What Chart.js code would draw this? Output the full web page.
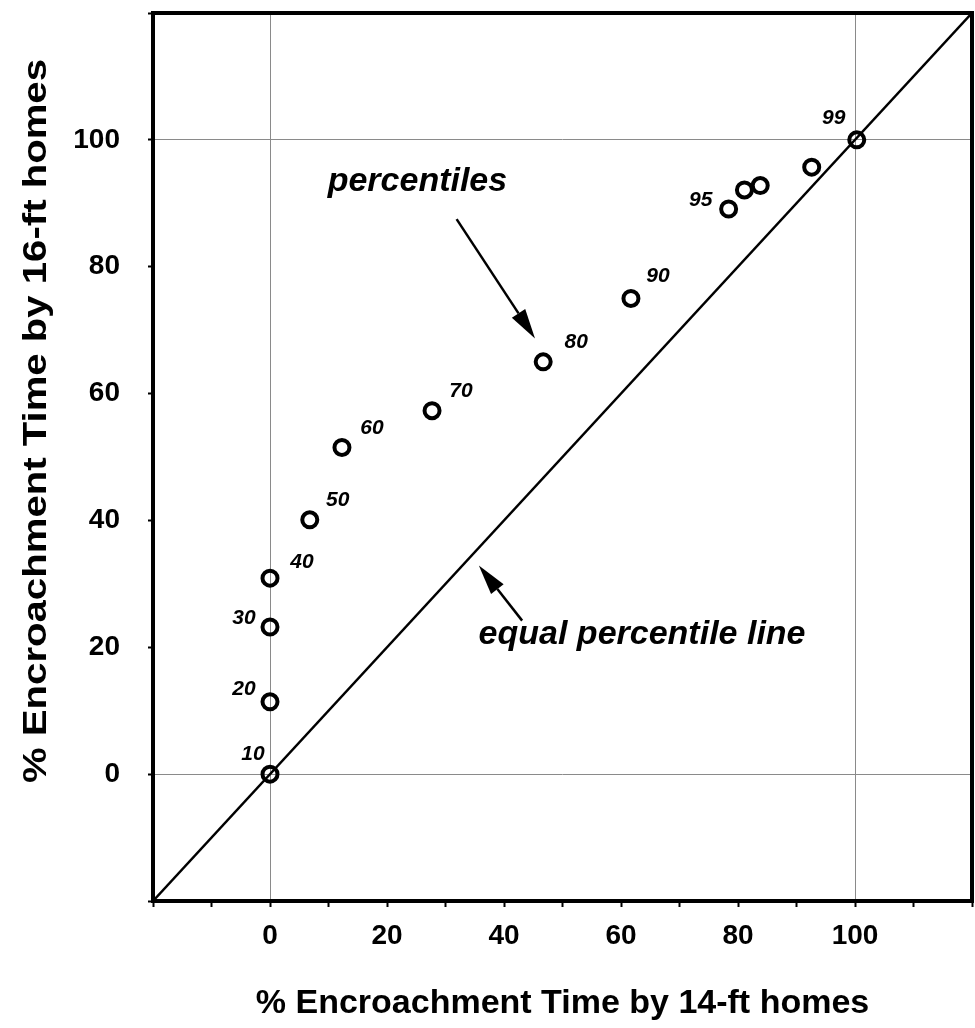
<!DOCTYPE html>
<html>
<head>
<meta charset="utf-8">
<script src="https://cdn.jsdelivr.net/npm/chart.js@4/dist/chart.umd.min.js"></script>
<style>
  body { margin: 0; background: #fff; }
  canvas { display: block; }
</style>
</head>
<body>
<canvas id="chart" width="975" height="1028"></canvas>
<script>
// percentile values
const percentiles = ['10', '20', '30', '40', '50', '60', '70', '80', '90', '95', '', '', '', '99'];
const pct14ft = [0, 0, 0, 0, 6.8, 12.3, 27.7, 46.7, 61.7, 78.4, 81.1, 83.8, 92.6, 100.3];
const pct16ft = [0, 11.4, 23.2, 30.9, 40.1, 51.5, 57.3, 65.0, 75.0, 89.1, 92.1, 92.8, 95.7, 100];
const equalLine = [-20, 120];
const tickLabels = [0, 20, 40, 60, 80, 100];

// where each percentile label sits relative to its circle (px)
const labelOffsets = [[-17, -20], [-26, -13], [-26, -9], [32, -16], [28, -20], [30, -19], [29, -19],
  [33, -20], [27, -22], [-28, -9], [0, 0], [0, 0], [0, 0], [-23, -22]];

const FONT = '"Liberation Sans", Arial, Helvetica, sans-serif';

const points = pct14ft.map((x, i) => ({ x: x, y: pct16ft[i] }));
const diag = equalLine.map(v => ({ x: v, y: v }));

function arrow(ctx, x1, y1, x2, y2) {
  const ang = Math.atan2(y2 - y1, x2 - x1);
  const len = 30, half = 8;
  const bx = x2 - len * Math.cos(ang), by = y2 - len * Math.sin(ang);
  ctx.beginPath();
  ctx.moveTo(x1, y1);
  ctx.lineTo(bx, by);
  ctx.lineWidth = 2.5;
  ctx.stroke();
  ctx.beginPath();
  ctx.moveTo(x2, y2);
  ctx.lineTo(bx + half * Math.sin(ang), by - half * Math.cos(ang));
  ctx.lineTo(bx - half * Math.sin(ang), by + half * Math.cos(ang));
  ctx.closePath();
  ctx.fill();
}

const decorations = {
  id: 'decorations',
  afterDatasetsDraw(chart) {
    const { ctx, chartArea: a, scales: { x, y } } = chart;
    ctx.save();
    ctx.strokeStyle = '#000';
    ctx.fillStyle = '#000';

    // frame
    ctx.lineWidth = 4;
    ctx.strokeRect(a.left, a.top, a.right - a.left, a.bottom - a.top);

    // percentile labels
    ctx.font = 'italic bold 21px ' + FONT;
    ctx.textAlign = 'center';
    ctx.textBaseline = 'middle';
    percentiles.forEach((p, i) => {
      if (!p) return;
      const px = x.getPixelForValue(pct14ft[i]) + labelOffsets[i][0];
      const py = y.getPixelForValue(pct16ft[i]) + labelOffsets[i][1];
      ctx.fillText(p, px, py);
    });

    // annotations
    ctx.font = 'italic bold 34px ' + FONT;
    ctx.textBaseline = 'alphabetic';
    ctx.fillText('percentiles', x.getPixelForValue(25.2), y.getPixelForValue(91.9));
    arrow(ctx, x.getPixelForValue(31.9), y.getPixelForValue(87.5), x.getPixelForValue(45.3), y.getPixelForValue(68.7));
    ctx.fillText('equal percentile line', x.getPixelForValue(63.6), y.getPixelForValue(20.5));
    arrow(ctx, x.getPixelForValue(43.1), y.getPixelForValue(24.2), x.getPixelForValue(35.7), y.getPixelForValue(32.9));

    // axis titles
    ctx.textBaseline = 'middle';
    ctx.font = 'bold 34px ' + FONT;
    ctx.fillText('% Encroachment Time by 14-ft homes', (a.left + a.right) / 2, 1004);

    const yTitle = '% Encroachment Time by 16-ft homes';
    ctx.font = 'bold 33px ' + FONT;
    const w = ctx.measureText(yTitle).width;
    ctx.translate(37, 421);
    ctx.rotate(-Math.PI / 2);
    ctx.scale(724 / w, 1);
    ctx.fillText(yTitle, 0, 0);
    ctx.restore();
  }
};

function gridColor(c) {
  return c.tick && (c.tick.value === 0 || c.tick.value === 100) ? '#8a8a8a' : 'rgba(0,0,0,0)';
}

new Chart(document.getElementById('chart'), {
  type: 'scatter',
  data: {
    datasets: [
      {
        data: points,
        showLine: false,
        pointRadius: 7.5,
        pointHoverRadius: 7.5,
        pointBorderWidth: 4,
        pointBorderColor: '#000',
        pointBackgroundColor: 'rgba(0,0,0,0)'
      },
      {
        data: diag,
        showLine: true,
        borderColor: '#000',
        borderWidth: 2.5,
        pointRadius: 0
      }
    ]
  },
  options: {
    responsive: false,
    animation: false,
    layout: { autoPadding: false, padding: { top: 13, right: 3, left: 0, bottom: 0 } },
    plugins: { legend: { display: false }, tooltip: { enabled: false } },
    scales: {
      x: {
        type: 'linear',
        min: -20,
        max: 120,
        afterFit: s => { s.height = 127; s.paddingLeft = 0; s.paddingRight = 0; },
        border: { display: false },
        grid: { color: gridColor, lineWidth: 1, borderDash: [1, 2], tickColor: '#000', tickLength: 6, tickWidth: 2 },
        ticks: {
          stepSize: 10,
          autoSkip: false,
          maxRotation: 0,
          padding: 12,
          color: '#000',
          font: { family: FONT, size: 28, weight: 'bold' },
          callback: v => tickLabels.includes(v) ? String(v) : ''
        }
      },
      y: {
        type: 'linear',
        min: -20,
        max: 120,
        afterFit: s => { s.width = 153; s.paddingTop = 0; s.paddingBottom = 0; },
        border: { display: false },
        grid: { color: gridColor, lineWidth: 1, borderDash: [1, 2], tickColor: '#000', tickLength: 5, tickWidth: 2 },
        ticks: {
          stepSize: 20,
          autoSkip: false,
          padding: 28,
          color: '#000',
          font: { family: FONT, size: 28, weight: 'bold' },
          callback: v => tickLabels.includes(v) ? String(v) : ''
        }
      }
    }
  },
  plugins: [decorations]
});
</script>
</body>
</html>
